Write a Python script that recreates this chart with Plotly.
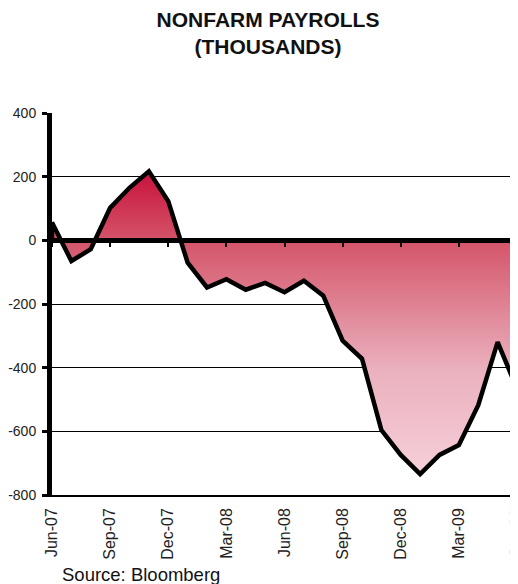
import plotly.graph_objects as go

months = ["Jun-07", "Jul-07", "Aug-07", "Sep-07", "Oct-07", "Nov-07", "Dec-07",
          "Jan-08", "Feb-08", "Mar-08", "Apr-08", "May-08", "Jun-08", "Jul-08",
          "Aug-08", "Sep-08", "Oct-08", "Nov-08", "Dec-08", "Jan-09", "Feb-09",
          "Mar-09", "Apr-09", "May-09", "Jun-09"]
payrolls = [56, -65, -28, 102, 165, 217, 123, -70, -148, -122, -155, -134,
            -163, -127, -174, -315, -372, -596, -674, -734, -674, -643, -518,
            -320, -466]
tick_labels = months[::3]
y_ticks = [-800, -600, -400, -200, 0, 200, 400]
y_tick_text = ["-800", "-600", "-400", "-200", "0", "200", "400"]

# closed outline of the area (Excel draws the border around the whole area)
x_outline = [months[0]] + months + [months[-1]]
y_outline = [0] + payrolls + [0]

# the page body has an 8px default margin, so the figure is 8px smaller
W, H = 510, 576
L, R, T, B = 44, 1, 105, 89
PW, PH = W - L - R, H - T - B

fig = go.Figure()
fig.add_trace(go.Scatter(
    x=x_outline, y=y_outline, mode="lines",
    line=dict(color="black", width=4.5),
    fill="tozeroy",
    fillgradient=dict(
        type="vertical", start=-740, stop=220,
        colorscale=[[0.0, "#f6d0da"], [0.35, "#eab0bd"], [0.77, "#d45469"], [1.0, "#c8103a"]],
    ),
    hoverinfo="skip", showlegend=False,
))
# ghost trace so the zero-crossing category axis has the same categories
fig.add_trace(go.Scatter(
    x=months, y=payrolls, mode="lines", line=dict(width=0),
    xaxis="x2", hoverinfo="skip", showlegend=False,
))

fig.update_layout(
    width=W, height=H,
    margin=dict(l=L, r=R, t=T, b=B, autoexpand=False),
    paper_bgcolor="white", plot_bgcolor="white",
    font=dict(family="Liberation Sans, Arial, sans-serif", color="#111"),
    title=dict(
        text="<b>NONFARM PAYROLLS<br>(THOUSANDS)</b>",
        font=dict(size=21, color="#111"),
        x=260 / W, xanchor="center", xref="container",
        y=1 - 18.5 / H, yanchor="middle", yref="container",
    ),
    xaxis=dict(
        type="category", range=[0, 24], automargin=False,
        tickvals=tick_labels, ticktext=tick_labels,
        tickangle=-90, tickfont=dict(size=16, color="#222"),
        showgrid=False, showline=True, linecolor="black", linewidth=1.5,
        ticks="", ticklabelstandoff=5,
    ),
    xaxis2=dict(
        type="category", range=[0, 24], overlaying="x", anchor="free",
        position=800 / 1200, side="bottom", automargin=False,
        tickvals=tick_labels, showticklabels=False,
        showgrid=False, showline=True, linecolor="black", linewidth=4.5,
        ticks="outside", ticklen=4, tickwidth=2, tickcolor="black",
        layer="above traces",
    ),
    yaxis=dict(
        range=[-800, 400], tickvals=y_ticks, ticktext=y_tick_text,
        automargin=False,
        tickfont=dict(size=14, color="#222"),
        showgrid=True, gridcolor="black", gridwidth=1,
        zeroline=False,
        showline=True, linecolor="black", linewidth=5,
        ticks="outside", ticklen=5, tickwidth=3, tickcolor="black",
        ticklabelstandoff=3,
    ),
    shapes=[dict(type="line", xref="paper", x0=1, x1=1, yref="y", y0=0, y1=400,
                 line=dict(color="#555", width=1))],
    annotations=[dict(
        text="Source: Bloomberg", xref="paper", yref="paper",
        x=(52 - L) / PW, y=-(566 - (H - B)) / PH, xanchor="left", yanchor="middle",
        showarrow=False, font=dict(size=18.5, color="#111"),
    )],
)

fig.write_html("out.html")
